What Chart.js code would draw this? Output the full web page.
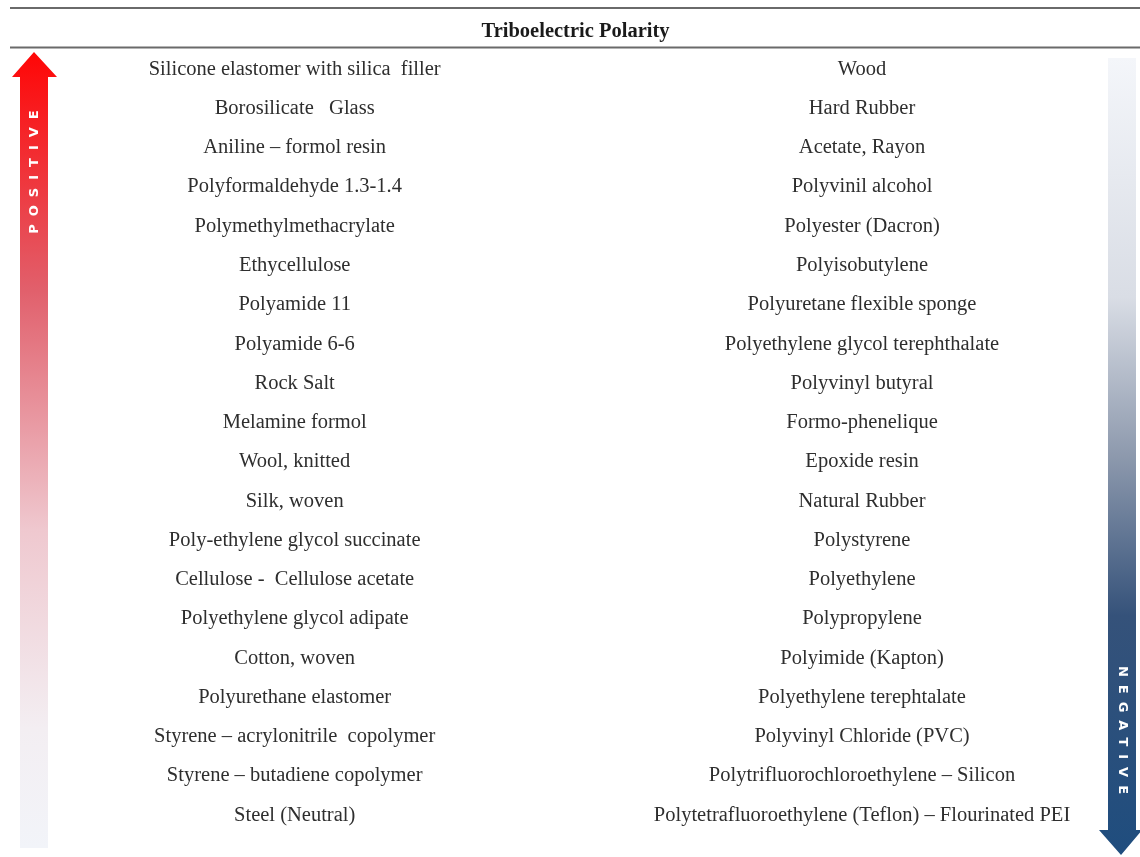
<!DOCTYPE html>
<html lang="en">
<head>
    <meta charset="UTF-8">
    <title>Triboelectric Polarity</title>
    <script src="https://cdn.jsdelivr.net/npm/chart.js"></script>
    <style>
        html, body { margin: 0; padding: 0; background: #fff; }
        #wrap { width: 1140px; height: 857px; position: relative; }
    </style>
</head>
<body>
    <div id="wrap"><canvas id="triboChart"></canvas></div>
    <script>
        // most positive at the top, most negative at the bottom of the right column
        const positiveSide = [
            'Silicone elastomer with silica  filler',
            'Borosilicate   Glass',
            'Aniline \u2013 formol resin',
            'Polyformaldehyde 1.3-1.4',
            'Polymethylmethacrylate',
            'Ethycellulose',
            'Polyamide 11',
            'Polyamide 6-6',
            'Rock Salt',
            'Melamine formol',
            'Wool, knitted',
            'Silk, woven',
            'Poly-ethylene glycol succinate',
            'Cellulose -  Cellulose acetate',
            'Polyethylene glycol adipate',
            'Cotton, woven',
            'Polyurethane elastomer',
            'Styrene \u2013 acrylonitrile  copolymer',
            'Styrene \u2013 butadiene copolymer',
            'Steel (Neutral)'
        ];
        const negativeSide = [
            'Wood',
            'Hard Rubber',
            'Acetate, Rayon',
            'Polyvinil alcohol',
            'Polyester (Dacron)',
            'Polyisobutylene',
            'Polyuretane flexible sponge',
            'Polyethylene glycol terephthalate',
            'Polyvinyl butyral',
            'Formo-phenelique',
            'Epoxide resin',
            'Natural Rubber',
            'Polystyrene',
            'Polyethylene',
            'Polypropylene',
            'Polyimide (Kapton)',
            'Polyethylene terephtalate',
            'Polyvinyl Chloride (PVC)',
            'Polytrifluorochloroethylene \u2013 Silicon',
            'Polytetrafluoroethylene (Teflon) \u2013 Flourinated PEI'
        ];
        const columns = [0, 1];
        const titleText = 'Triboelectric Polarity';

        const serif = '"Liberation Serif", "Times New Roman", serif';

        const makeSet = (names, col) => ({
            names: names,
            data: names.map((n, i) => ({ x: col, y: i })),
            pointRadius: 0,
            showLine: false
        });

        // header rules and the two polarity arrows
        const decorPlugin = {
            id: 'decor',
            beforeDatasetsDraw(chart) {
                const c = chart.ctx;
                const top = chart.chartArea.top;
                c.save();
                c.strokeStyle = '#6a6a6a';
                c.lineWidth = 2;
                c.beginPath();
                c.moveTo(10, 8); c.lineTo(1140, 8);
                c.moveTo(10, top); c.lineTo(1140, top);
                c.stroke();

                // positive arrow (up)
                let g = c.createLinearGradient(0, 52, 0, 848);
                g.addColorStop(0, '#ff0606');
                g.addColorStop(0.3, '#e1606c');
                g.addColorStop(0.6, '#efc8cf');
                g.addColorStop(0.85, '#f3eef2');
                g.addColorStop(1, '#f2f4f9');
                c.fillStyle = g;
                c.beginPath();
                c.moveTo(34, 52);
                c.lineTo(57, 77);
                c.lineTo(48, 77);
                c.lineTo(48, 848);
                c.lineTo(20, 848);
                c.lineTo(20, 77);
                c.lineTo(12, 77);
                c.closePath();
                c.fill();

                // negative arrow (down)
                g = c.createLinearGradient(0, 58, 0, 855);
                g.addColorStop(0, '#f4f6fa');
                g.addColorStop(0.3, '#d9dde5');
                g.addColorStop(0.5, '#8d99ad');
                g.addColorStop(0.7, '#35527a');
                g.addColorStop(1, '#1f4d7e');
                c.fillStyle = g;
                c.beginPath();
                c.moveTo(1108, 58);
                c.lineTo(1136, 58);
                c.lineTo(1136, 830);
                c.lineTo(1142, 830);
                c.lineTo(1121, 855);
                c.lineTo(1099, 830);
                c.lineTo(1108, 830);
                c.closePath();
                c.fill();

                c.fillStyle = '#ffffff';
                c.font = 'bold 13px "DejaVu Sans", Arial, sans-serif';
                c.letterSpacing = '8px';
                c.textAlign = 'center';
                c.textBaseline = 'middle';
                c.save();
                c.translate(35, 168);
                c.rotate(-Math.PI / 2);
                c.fillText('POSITIVE', 0, 0);
                c.restore();
                c.save();
                c.translate(1122, 734);
                c.rotate(Math.PI / 2);
                c.fillText('NEGATIVE', 0, 0);
                c.restore();
                c.letterSpacing = '0px';
                c.restore();
            },
            afterDatasetsDraw(chart) {
                const c = chart.ctx;
                c.save();
                c.font = '20.5px ' + serif;
                c.fillStyle = '#2e2e2e';
                c.textAlign = 'center';
                c.textBaseline = 'middle';
                chart.data.datasets.forEach((ds, di) => {
                    chart.getDatasetMeta(di).data.forEach((pt, i) => {
                        c.fillText(ds.names[i], pt.x, pt.y + 2);
                    });
                });
                c.restore();
            }
        };

        new Chart(document.getElementById('triboChart'), {
            type: 'scatter',
            data: {
                datasets: [makeSet(positiveSide, columns[0]), makeSet(negativeSide, columns[1])]
            },
            options: {
                responsive: true,
                maintainAspectRatio: false,
                animation: false,
                layout: { padding: { left: 11, right: 0, top: 0, bottom: 24 } },
                scales: {
                    x: { type: 'linear', min: -0.5, max: 1.49, display: false },
                    y: { type: 'linear', min: -0.5, max: positiveSide.length - 0.5, reverse: true, display: false }
                },
                plugins: {
                    legend: { display: false },
                    tooltip: { enabled: false },
                    title: {
                        display: true,
                        text: titleText,
                        color: '#1a1a1a',
                        font: { family: serif, size: 20.5, weight: 'bold' },
                        padding: { top: 19, bottom: 4 }
                    }
                }
            },
            plugins: [decorPlugin]
        });
    </script>
</body>
</html>
